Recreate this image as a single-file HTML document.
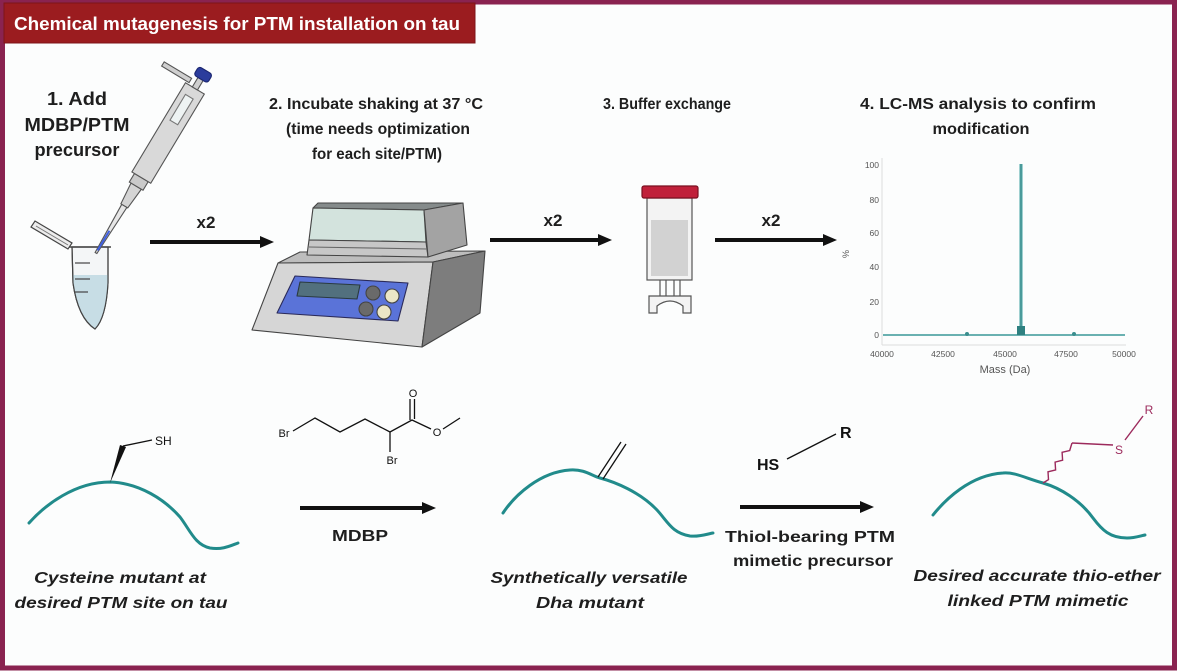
<!DOCTYPE html>
<html><head><meta charset="utf-8"><style>
html,body{margin:0;padding:0;background:#fcfdfd;}
svg{display:block;}
text{font-family:"Liberation Sans",sans-serif;}
</style></head><body>
<svg width="1177" height="671" viewBox="0 0 1177 671" xmlns="http://www.w3.org/2000/svg">
<rect x="0" y="0" width="1177" height="671" fill="#fcfdfd"/>
<!-- frame -->
<rect x="2.5" y="2" width="1172" height="666" fill="none" stroke="#8a2350" stroke-width="5"/>
<!-- title bar -->
<rect x="4" y="3" width="471" height="40" fill="#9b1c1f" stroke="#7e1519" stroke-width="1"/>
<text x="14" y="30" font-size="18" font-weight="bold" fill="#ffffff" textLength="446" lengthAdjust="spacingAndGlyphs">Chemical mutagenesis for PTM installation on tau</text>

<!-- step labels -->
<g font-weight="bold" fill="#1e1e1e" text-anchor="middle">
<text x="77" y="105" font-size="18" textLength="60" lengthAdjust="spacingAndGlyphs">1. Add</text>
<text x="77" y="131" font-size="18" textLength="105" lengthAdjust="spacingAndGlyphs">MDBP/PTM</text>
<text x="77" y="156" font-size="18" textLength="85" lengthAdjust="spacingAndGlyphs">precursor</text>

<text x="376" y="109" font-size="16" textLength="214" lengthAdjust="spacingAndGlyphs">2. Incubate shaking at 37 °C</text>
<text x="378" y="134" font-size="16" textLength="184" lengthAdjust="spacingAndGlyphs">(time needs optimization</text>
<text x="377" y="159" font-size="16" textLength="130" lengthAdjust="spacingAndGlyphs">for each site/PTM)</text>

<text x="667" y="109" font-size="16" textLength="128" lengthAdjust="spacingAndGlyphs">3. Buffer exchange</text>

<text x="978" y="109" font-size="16" textLength="236" lengthAdjust="spacingAndGlyphs">4. LC-MS analysis to confirm</text>
<text x="981" y="134" font-size="16" textLength="97" lengthAdjust="spacingAndGlyphs">modification</text>

<text x="206" y="228" font-size="17">x2</text>
<text x="553" y="226" font-size="17">x2</text>
<text x="771" y="226" font-size="17">x2</text>
</g>

<!-- arrows top -->
<g fill="#111" stroke="#111">
<line x1="150" y1="242" x2="262" y2="242" stroke-width="4"/>
<polygon points="260,236 274,242 260,248" stroke="none"/>
<line x1="490" y1="240" x2="600" y2="240" stroke-width="4"/>
<polygon points="598,234 612,240 598,246" stroke="none"/>
<line x1="715" y1="240" x2="825" y2="240" stroke-width="4"/>
<polygon points="823,234 837,240 823,246" stroke="none"/>
</g>

<!-- tube -->
<g stroke="#444" stroke-width="1.2">
<polygon points="68,249 31,227 35,221 72,243" fill="#ececec"/>
<line x1="36" y1="226" x2="68" y2="245" stroke="#777" stroke-width="1"/>
<path d="M72,247 L73,283 Q78,318 95,329 Q106,318 108,283 L108,247 Z" fill="#f4f6f7"/>
<path d="M73,275 L108,275 L108,283 Q106,318 95,329 Q78,318 73,283 Z" fill="#c7dde5" stroke="none"/>
<path d="M72,247 L73,283 Q78,318 95,329 Q106,318 108,283 L108,247" fill="none"/>
<line x1="69" y1="247" x2="111" y2="247" stroke-width="1.6"/>
<line x1="75" y1="263" x2="90" y2="263"/>
<line x1="75" y1="279" x2="90" y2="279"/>
<line x1="75" y1="292" x2="88" y2="292"/>
</g>

<!-- pipette -->
<g transform="translate(96,253) rotate(31)" stroke="#555" stroke-width="1.1">
<polygon points="-1,0 1,0 3,-55 -3,-55" fill="#e6e6e6"/>
<line x1="0" y1="-3" x2="0" y2="-26" stroke="#4060e0" stroke-width="2"/>
<polygon points="-4,-55 4,-55 6,-78 -6,-78" fill="#d4d4d4"/>
<rect x="-8" y="-88" width="16" height="10" fill="#cacaca"/>
<rect x="-11" y="-192" width="22" height="104" fill="#d9d9d9"/>
<rect x="-5" y="-182" width="9" height="30" fill="#eef3f3" stroke="#777"/>
<rect x="-40" y="-199" width="32" height="5" fill="#cfcfcf"/>
<rect x="-3" y="-203" width="6" height="11" fill="#cfcfcf"/>
<rect x="-8" y="-213" width="16" height="10" rx="3" fill="#2b3c9c" stroke="#1b2670"/>
</g>

<!-- shaker -->
<g stroke="#444" stroke-width="1.1" stroke-linejoin="round">
<polygon points="278,263 300,252 485,251 433,262" fill="#bdbdbd"/>
<polygon points="278,263 433,262 422,347 252,330" fill="#d6d6d6"/>
<polygon points="433,262 485,251 480,313 422,347" fill="#7d7d7d"/>
<polygon points="295,276 408,283 398,321 277,313" fill="#5a73d8" stroke="#2a2a5a"/>
<polygon points="300,282 360,285 357,299 297,296" fill="#52707e" stroke="#2a3a40"/>
<circle cx="373" cy="293" r="7" fill="#6a6a6a"/>
<circle cx="366" cy="309" r="7" fill="#6a6a6a"/>
<circle cx="392" cy="296" r="7" fill="#ebe6c6"/>
<circle cx="384" cy="312" r="7" fill="#ebe6c6"/>
<polygon points="313,208 318,203 463,203 424,210" fill="#858b8b"/>
<polygon points="313,208 424,210 426,242 309,240" fill="#d3e3dd"/>
<polygon points="309,240 426,242 428,257 307,255" fill="#c7c7c7"/>
<polygon points="424,210 463,203 467,245 428,257" fill="#a3a3a3"/>
<line x1="309" y1="247" x2="427" y2="249" stroke="#666"/>
</g>

<!-- column -->
<g stroke="#555" stroke-width="1.2">
<rect x="647" y="198" width="45" height="82" fill="#f3f3f3"/>
<rect x="651" y="220" width="37" height="56" fill="#d2d2d2" stroke="none"/>
<rect x="642" y="186" width="56" height="12" rx="2" fill="#c0203a" stroke="#7a1020"/>
<line x1="660" y1="280" x2="660" y2="296"/>
<line x1="666" y1="280" x2="666" y2="296"/>
<line x1="674" y1="280" x2="674" y2="296"/>
<line x1="680" y1="280" x2="680" y2="296"/>
<path d="M649,296 L691,296 L691,313 L683,313 L683,306 Q670,296 657,306 L657,313 L649,313 Z" fill="#f3f3f3"/>
</g>

<!-- chart -->
<g font-size="8.5" fill="#555">
<line x1="882" y1="158" x2="882" y2="345" stroke="#ddd" stroke-width="1"/>
<line x1="882" y1="345" x2="1126" y2="345" stroke="#ddd" stroke-width="1"/>
<g text-anchor="end">
<text x="879" y="168">100</text>
<text x="879" y="203">80</text>
<text x="879" y="236">60</text>
<text x="879" y="270">40</text>
<text x="879" y="305">20</text>
<text x="879" y="338">0</text>
</g>
<g text-anchor="middle">
<text x="882" y="357">40000</text>
<text x="943" y="357">42500</text>
<text x="1005" y="357">45000</text>
<text x="1066" y="357">47500</text>
<text x="1124" y="357">50000</text>
<text x="1005" y="373" font-size="11">Mass (Da)</text>
</g>
<text x="0" y="0" font-size="9" transform="translate(849,254) rotate(-90)" text-anchor="middle">%</text>
<line x1="883" y1="335" x2="1125" y2="335" stroke="#3a9898" stroke-width="1.5"/>
<line x1="1021" y1="335" x2="1021" y2="164" stroke="#9fd0d0" stroke-width="4"/>
<line x1="1021" y1="335" x2="1021" y2="164" stroke="#2e8888" stroke-width="1.5"/>
<rect x="1017" y="326" width="8" height="9" fill="#2e8080"/>
<circle cx="967" cy="334" r="2" fill="#3a8e8e"/>
<circle cx="1074" cy="334" r="2" fill="#3a8e8e"/>
</g>

<!-- bottom: protein 1 -->
<path d="M29,523 C45,505 75,482 110,482 C140,483 165,500 180,517 C190,530 195,545 210,548 C222,550 230,546 238,543" fill="none" stroke="#218b8b" stroke-width="3" stroke-linecap="round"/>
<polygon points="110,483 120,445 126,447" fill="#111"/>
<line x1="123" y1="446" x2="152" y2="440" stroke="#111" stroke-width="1.3"/>
<text x="155" y="445" font-size="12" fill="#111">SH</text>

<!-- MDBP molecule -->
<g stroke="#111" stroke-width="1.3" fill="none">
<polyline points="293,431 315,418 340,432 365,419 390,432 412,420 431,429"/>
<line x1="443" y1="429" x2="460" y2="418"/>
<line x1="410" y1="420" x2="410" y2="399"/>
<line x1="414.5" y1="419" x2="414.5" y2="399"/>
<line x1="390" y1="432" x2="390" y2="452"/>
</g>
<g font-size="11" fill="#111" text-anchor="middle">
<text x="284" y="437">Br</text>
<text x="437" y="436">O</text>
<text x="413" y="397">O</text>
<text x="392" y="464">Br</text>
</g>

<!-- bottom arrows -->
<g fill="#111" stroke="#111">
<line x1="300" y1="508" x2="424" y2="508" stroke-width="4"/>
<polygon points="422,502 436,508 422,514" stroke="none"/>
<line x1="740" y1="507" x2="862" y2="507" stroke-width="4"/>
<polygon points="860,501 874,507 860,513" stroke="none"/>
</g>

<!-- protein 2 -->
<path d="M503,513 C515,495 540,472 570,470 C585,469 592,476 600,478 C615,482 640,492 657,510 C668,522 672,533 690,536 C700,537 707,534 713,533" fill="none" stroke="#218b8b" stroke-width="3" stroke-linecap="round"/>
<line x1="598" y1="477" x2="621" y2="442" stroke="#111" stroke-width="1.3"/>
<line x1="603" y1="479" x2="626" y2="444" stroke="#111" stroke-width="1.3"/>

<!-- HS-R -->
<g font-weight="bold" fill="#111" font-size="16">
<text x="757" y="470">HS</text>
<text x="840" y="438">R</text>
</g>
<line x1="787" y1="459" x2="836" y2="434" stroke="#111" stroke-width="1.3"/>

<!-- protein 3 -->
<path d="M933,515 C945,500 970,475 1003,473 C1015,472 1025,478 1043,483 C1060,488 1080,500 1093,518 C1102,530 1110,538 1127,538 C1135,538 1140,536 1145,535" fill="none" stroke="#218b8b" stroke-width="3" stroke-linecap="round"/>
<polyline points="1043,483 1048.5,479.6 1048,471.8 1055.6,469.9 1055.1,462.1 1062.6,460.2 1062.1,452.3 1069.7,450.5 1072,443" fill="none" stroke="#9c2a5c" stroke-width="1.4"/>
<line x1="1072" y1="443" x2="1113" y2="445" stroke="#9c2a5c" stroke-width="1.4"/>
<line x1="1125" y1="440" x2="1143" y2="416" stroke="#9c2a5c" stroke-width="1.4"/>
<g font-size="12" fill="#9c2a5c" text-anchor="middle">
<text x="1119" y="454">S</text>
<text x="1149" y="414">R</text>
</g>

<!-- bottom labels -->
<g font-weight="bold" font-style="italic" fill="#1e1e1e" text-anchor="middle" font-size="16">
<text x="120" y="583" textLength="172" lengthAdjust="spacingAndGlyphs">Cysteine mutant at</text>
<text x="121" y="608" textLength="213" lengthAdjust="spacingAndGlyphs">desired PTM site on tau</text>
<text x="589" y="583" textLength="197" lengthAdjust="spacingAndGlyphs">Synthetically versatile</text>
<text x="590" y="608" textLength="108" lengthAdjust="spacingAndGlyphs">Dha mutant</text>
<text x="1037" y="581" textLength="247" lengthAdjust="spacingAndGlyphs">Desired accurate thio-ether</text>
<text x="1038" y="606" textLength="181" lengthAdjust="spacingAndGlyphs">linked PTM mimetic</text>
</g>
<g font-weight="bold" fill="#1e1e1e" text-anchor="middle" font-size="16">
<text x="360" y="541" textLength="56" lengthAdjust="spacingAndGlyphs">MDBP</text>
<text x="810" y="542" textLength="170" lengthAdjust="spacingAndGlyphs">Thiol-bearing PTM</text>
<text x="813" y="566" textLength="160" lengthAdjust="spacingAndGlyphs">mimetic precursor</text>
</g>
</svg>
</body></html>
